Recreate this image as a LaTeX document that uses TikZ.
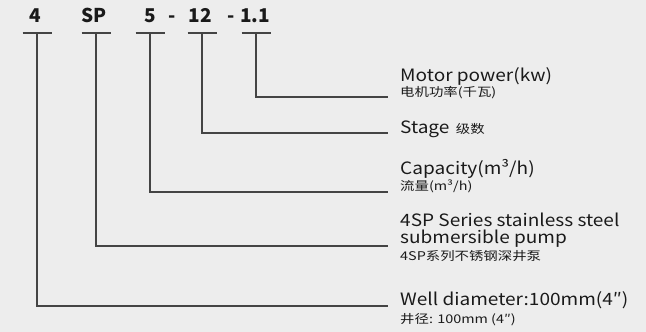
\documentclass[tikz,border=0pt]{standalone}
\usepackage{fontspec}
\setmainfont{Noto Sans CJK SC}
\newfontfamily\engfont[FakeStretch=1.12]{Noto Sans CJK SC}
\newfontfamily\chnfont[FakeStretch=1.2]{Noto Sans CJK SC}
\definecolor{bggray}{HTML}{EDEDED}
\definecolor{linegray}{HTML}{444444}
\definecolor{txt}{HTML}{1A1A1A}
\begin{document}
\begin{tikzpicture}[x=1pt,y=-1pt]
\tikzset{code/.style={font=\fontsize{19}{19}\selectfont\bfseries, text=txt, inner sep=0pt, anchor=base},
  eng/.style={font=\engfont\fontsize{17}{17}\selectfont, text=txt, inner sep=0pt, anchor=base west},
  chn/.style={font=\chnfont\fontsize{12}{12}\selectfont, text=txt, inner sep=0pt, anchor=base west},
  lead/.style={draw=linegray, line width=1.2pt}}

\fill [bggray] (0,0) rectangle (646,332);

% model code
\node [code] (c4) at (35,23) {4};
\node [code] (csp) at (94,23) {SP};
\node [code] (c5) at (150,23) {5};
\node [code] (d1) at (172,23) {-};
\node [code] (c12) at (200,23) {12};
\node [code] (d2) at (231,23) {-};
\node [code] (c11) at (255,23) {1.1};

% tick marks under the code
\coordinate (t4) at (37,33);
\coordinate (tsp) at (96,33);
\coordinate (t5) at (150,33);
\coordinate (t12) at (202,33);
\coordinate (t11) at (256,33);
\foreach \t in {t4,tsp,t5,t12,t11}
  \draw [lead] ([xshift=-14.5pt]\t) -- ([xshift=14.5pt]\t);

% ends of the leaders
\coordinate (e11) at (388,97);
\coordinate (e12) at (388,133);
\coordinate (e5) at (388,192);
\coordinate (esp) at (388,246);
\coordinate (e4) at (388,306);

\draw [lead] (t11) |- (e11);
\draw [lead] (t12) |- (e12);
\draw [lead] (t5) |- (e5);
\draw [lead] (tsp) |- (esp);
\draw [lead] (t4) |- (e4);

% descriptions
\node [eng] (motor) at (400,81) {Motor power(kw)};
\node [chn] (motorcn) at (400,96) {电机功率(千瓦)};
\node [eng] (stage) at (400,133) {Stage};
\node [chn] (stagecn) at ([xshift=6pt]stage.base east) {级数};
\node [eng] (cap) at (400,174) {Capacity(m³/h)};
\node [chn] (capcn) at (400,190) {流量(m³/h)};
\node [eng, text depth=0pt] (series) at (400,226) {4SP Series stainless steel};
\node [eng, text height=9pt] (series2) at (400,243) {submersible pump};
\node [chn] (seriescn) at (400,260) {4SP系列不锈钢深井泵};
\node [eng] (well) at (400,305) {Well diameter:100mm(4″)};
\node [chn] (wellcn) at (400,323) {井径: 100mm (4″)};

\end{tikzpicture}
\end{document}
